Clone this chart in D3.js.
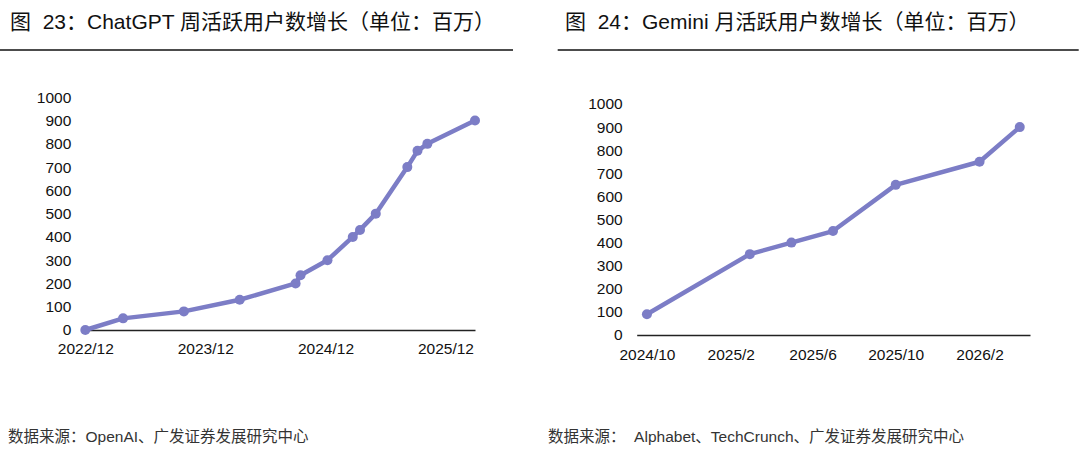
<!DOCTYPE html>
<html><head><meta charset="utf-8">
<script src="https://cdn.jsdelivr.net/npm/d3@7/dist/d3.min.js"></script>
<style>
body{margin:0;background:#fff;}
svg{display:block;font-family:"Liberation Sans","Noto Sans CJK SC",Arial,sans-serif;}
</style></head>
<body>
<svg id="c" width="1080" height="456"></svg>
<script>
// ---- data ----
const chatDates = ["2022-12-01","2023-03-26","2023-09-27","2024-03-15","2024-09-01","2024-09-16","2024-12-07","2025-02-22","2025-03-16","2025-05-03","2025-08-07","2025-09-07","2025-10-07","2026-03-01"];
const chatValues = [0,50,80,130,200,235,300,400,430,500,700,770,800,900];
const chatTicks = ["2022-12-01","2023-12-01","2024-12-01","2025-12-01"];
const geminiDates = ["2024-10-01","2025-03-01","2025-05-01","2025-07-01","2025-10-01","2026-02-01","2026-04-01"];
const geminiValues = [90,350,400,450,650,750,900];
const geminiTicks = ["2024-10-01","2025-02-01","2025-06-01","2025-10-01","2026-02-01"];
const yTicks = [0,100,200,300,400,500,600,700,800,900,1000];
const titles = ["图  23：ChatGPT 周活跃用户数增长（单位：百万）","图  24：Gemini 月活跃用户数增长（单位：百万）"];
const sources = ["数据来源：OpenAI、广发证券发展研究中心","数据来源：  Alphabet、TechCrunch、广发证券发展研究中心"];

const parse = d3.timeParse("%Y-%m-%d");
const fmt = d3.timeFormat("%Y/%-m");
const color = "#7C7DC6";
const svg = d3.select("#c");

function panel(cfg){
  const g = svg.append("g");
  g.append("text").attr("x",cfg.titleX).attr("y",29).attr("font-size",21).attr("fill","#111")
    .attr("xml:space","preserve").style("white-space","pre").text(cfg.title);
  g.append("line").attr("x1",cfg.ruleX1).attr("x2",cfg.ruleX2).attr("y1",50).attr("y2",50)
    .attr("stroke","#111").attr("stroke-width",1.6);
  g.append("text").attr("x",cfg.sourceX).attr("y",442).attr("font-size",15.5).attr("fill","#333")
    .attr("xml:space","preserve").style("white-space","pre").text(cfg.source);

  const x = d3.scaleTime().domain(cfg.xDomain.map(parse)).range(cfg.xRange);
  const y = d3.scaleLinear().domain([0,1000]).range(cfg.yRange);

  const ya = g.append("g").attr("transform",`translate(${cfg.xRange[0]},0)`)
    .call(d3.axisLeft(y).tickValues(yTicks).tickFormat(d3.format("d")).tickSize(0).tickPadding(14));
  ya.select(".domain").remove();
  ya.selectAll("text").attr("font-size",15.5).attr("fill","#111").attr("font-family",null);

  const xa = g.append("g").attr("transform",`translate(0,${cfg.yRange[0]})`)
    .call(d3.axisBottom(x).tickValues(cfg.ticks.map(parse)).tickFormat(fmt).tickSize(0).tickPadding(cfg.xPad));
  xa.select(".domain").attr("stroke","#222").attr("stroke-width",1.5);
  xa.selectAll("text").attr("font-size",15.5).attr("fill","#111").attr("font-family",null);

  const data = cfg.dates.map((d,i)=>({d:parse(d),v:cfg.values[i]}));
  g.append("path").datum(data)
    .attr("d",d3.line().x(p=>x(p.d)).y(p=>y(p.v)))
    .attr("fill","none").attr("stroke",color).attr("stroke-width",4.5).attr("stroke-linejoin","round");
  g.selectAll("circle.m").data(data).enter().append("circle")
    .attr("cx",p=>x(p.d)).attr("cy",p=>y(p.v)).attr("r",5).attr("fill",color);
}

panel({title:titles[0],source:sources[0],titleX:10,sourceX:8,ruleX1:0,ruleX2:513,
  xDomain:["2022-12-01","2026-03-01"],xRange:[85.3,475],yRange:[330,97.3],
  ticks:chatTicks,dates:chatDates,values:chatValues,xPad:12.5});
panel({title:titles[1],source:sources[1],titleX:565,sourceX:548,ruleX1:557.7,ruleX2:1078.7,
  xDomain:["2024-09-16","2026-04-16"],xRange:[636.7,1030],yRange:[335,104],
  ticks:geminiTicks,dates:geminiDates,values:geminiValues,xPad:13.5});
</script>
</body></html>
